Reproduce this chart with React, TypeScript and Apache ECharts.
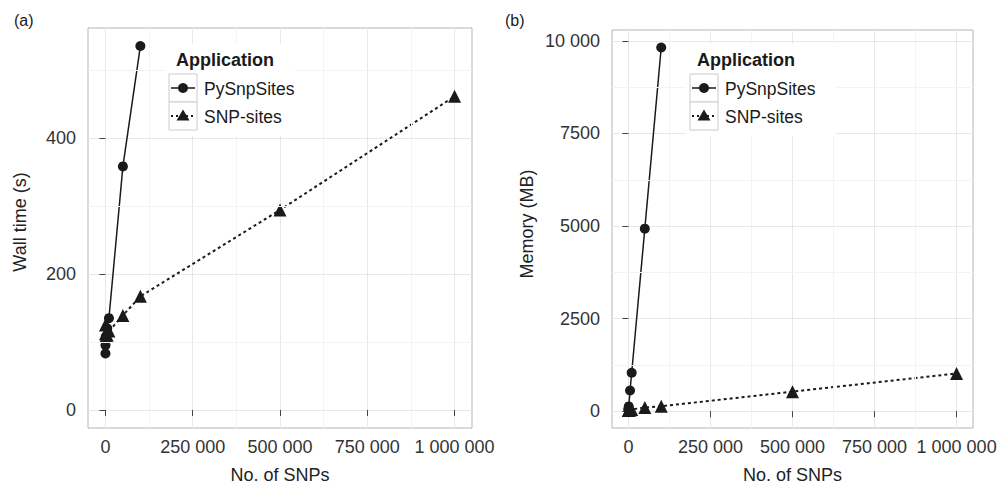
import React, { useEffect, useRef } from "react";
import * as echarts from "echarts";

const pySnps = [10, 100, 1000, 5000, 10000, 50000, 100000];
const snpSitesSnps = [10, 100, 1000, 5000, 10000, 50000, 100000, 500000, 1000000];
const pyWallTime = [83, 95, 108, 120, 135, 358, 535];
const snpWallTime = [125, 112, 108, 110, 116, 139, 167, 294, 461];
const pyMemory = [40, 60, 130, 560, 1040, 4930, 9820];
const snpMemory = [20, 22, 25, 35, 50, 100, 135, 530, 1020];

const xTicks = [0, 250000, 500000, 750000, 1000000];
const xMinorTicks = [125000, 375000, 625000, 875000];
const wallTicks = [0, 200, 400];
const wallMinorTicks = [100, 300, 500];
const memTicks = [0, 2500, 5000, 7500, 10000];
const memMinorTicks = [1250, 3750, 6250, 8750];

const FONT = "'Liberation Sans', Arial, sans-serif";
const INK = "#1a1a1a";

const fmt = (v: number) =>
  Math.abs(v) >= 10000 ? String(v).replace(/\B(?=(\d{3})+(?!\d))/g, " ") : String(v);

const zip = (xs: number[], ys: number[]) => xs.map((x, i) => [x, ys[i]]);

function xAxisOpt(gridIndex: number) {
  return {
    type: "value",
    gridIndex,
    min: -50000,
    max: 1050000,
    axisLine: { show: false },
    axisTick: { show: true, customValues: xTicks, length: 6, lineStyle: { color: "#444" } },
    axisLabel: {
      customValues: xTicks,
      formatter: fmt,
      fontSize: 18,
      color: "#333",
      fontFamily: FONT,
      margin: 10,
    },
    splitLine: { show: true, lineStyle: { color: "#e8e8e8", width: 1 } },
    name: "No. of SNPs",
    nameLocation: "middle",
    nameGap: 38,
    nameTextStyle: { fontSize: 18, color: "#222", fontFamily: FONT },
  };
}

function yAxisOpt(gridIndex: number, min: number, max: number, ticks: number[]) {
  return {
    type: "value",
    gridIndex,
    min,
    max,
    axisLine: { show: false },
    axisTick: { show: true, customValues: ticks, length: 6, lineStyle: { color: "#444" } },
    axisLabel: {
      customValues: ticks,
      formatter: fmt,
      fontSize: 18,
      color: "#333",
      fontFamily: FONT,
      margin: 12,
    },
    splitLine: { show: true, lineStyle: { color: "#e8e8e8", width: 1 } },
  };
}

function minorSeries(axisIndex: number, xs: number[], ys: number[]) {
  return {
    type: "line",
    xAxisIndex: axisIndex,
    yAxisIndex: axisIndex,
    data: [],
    z: 1,
    silent: true,
    markLine: {
      silent: true,
      symbol: ["none", "none"],
      label: { show: false },
      animation: false,
      lineStyle: { color: "#f3f3f3", type: "solid", width: 1 },
      data: [...xs.map((v) => ({ xAxis: v })), ...ys.map((v) => ({ yAxis: v }))],
    },
  };
}

function dataSeries(axisIndex: number, name: string, xs: number[], ys: number[], triangle: boolean) {
  return {
    type: "line",
    name,
    xAxisIndex: axisIndex,
    yAxisIndex: axisIndex,
    data: zip(xs, ys),
    symbol: triangle ? "triangle" : "circle",
    symbolSize: triangle ? 13 : 10,
    z: 3,
    itemStyle: { color: INK },
    lineStyle: triangle ? { color: INK, width: 2, type: [3, 3] } : { color: INK, width: 1.5 },
  };
}

function legend(x: number, bgW: number) {
  // x = left edge of the key boxes
  const k = 28;
  const rowTop = 74;
  const Z = 100;
  return [
    { type: "rect", z: Z, shape: { x: x - 4, y: 44, width: bgW, height: 92 }, style: { fill: "#fff" } },
    {
      type: "text",
      z: Z + 1,
      x: x + 7,
      y: 60,
      style: { text: "Application", fontSize: 18, fontWeight: "bold", fontFamily: FONT, fill: INK, verticalAlign: "middle" },
    },
    { type: "rect", z: Z + 1, shape: { x, y: rowTop, width: k, height: k }, style: { fill: "#fff", stroke: "#cccccc", lineWidth: 1 } },
    { type: "rect", z: Z + 1, shape: { x, y: rowTop + k, width: k, height: k }, style: { fill: "#fff", stroke: "#cccccc", lineWidth: 1 } },
    { type: "line", z: Z + 2, shape: { x1: x + 2, y1: rowTop + 14, x2: x + k - 2, y2: rowTop + 14 }, style: { stroke: INK, lineWidth: 1.5 } },
    { type: "circle", z: Z + 3, shape: { cx: x + 14, cy: rowTop + 14, r: 5 }, style: { fill: INK } },
    { type: "line", z: Z + 2, shape: { x1: x + 2, y1: rowTop + k + 14, x2: x + k - 2, y2: rowTop + k + 14 }, style: { stroke: INK, lineWidth: 2, lineDash: [2, 3] } },
    {
      type: "polygon",
      z: Z + 3,
      shape: { points: [[x + 14, rowTop + k + 7.5], [x + 20.5, rowTop + k + 18.5], [x + 7.5, rowTop + k + 18.5]] },
      style: { fill: INK },
    },
    {
      type: "text",
      z: Z + 1,
      x: x + k + 7,
      y: rowTop + 15,
      style: { text: "PySnpSites", fontSize: 17.5, fontFamily: FONT, fill: INK, verticalAlign: "middle" },
    },
    {
      type: "text",
      z: Z + 1,
      x: x + k + 7,
      y: rowTop + k + 15,
      style: { text: "SNP-sites", fontSize: 17.5, fontFamily: FONT, fill: INK, verticalAlign: "middle" },
    },
  ];
}

function yTitle(text: string, x: number, y: number) {
  return {
    type: "text",
    z: 100,
    x,
    y,
    rotation: Math.PI / 2,
    style: { text, fontSize: 18, fontFamily: FONT, fill: "#222", align: "center", verticalAlign: "middle" },
  };
}

export default function App() {
  const ref = useRef<HTMLDivElement>(null);
  useEffect(() => {
    if (!ref.current) return;
    const chart = echarts.init(ref.current, undefined, { renderer: "svg" });
    chart.setOption({
      animation: false,
      backgroundColor: "#fff",
      textStyle: { fontFamily: FONT },
      grid: [
        { left: 88, top: 28, width: 384, height: 405, show: true, backgroundColor: "#fff", borderColor: "#b5b5b5", borderWidth: 1, containLabel: false },
        { left: 612, top: 30, width: 361, height: 404, show: true, backgroundColor: "#fff", borderColor: "#b5b5b5", borderWidth: 1, containLabel: false },
      ],
      xAxis: [xAxisOpt(0), xAxisOpt(1)],
      yAxis: [yAxisOpt(0, -26.5, 561.5, wallTicks), yAxisOpt(1, -452, 10293, memTicks)],
      series: [
        minorSeries(0, xMinorTicks, wallMinorTicks),
        minorSeries(1, xMinorTicks, memMinorTicks),
        dataSeries(0, "PySnpSites", pySnps, pyWallTime, false),
        dataSeries(0, "SNP-sites", snpSitesSnps, snpWallTime, true),
        dataSeries(1, "PySnpSites", pySnps, pyMemory, false),
        dataSeries(1, "SNP-sites", snpSitesSnps, snpMemory, true),
      ],
      graphic: [
        ...legend(169, 130),
        ...legend(690, 150),
        yTitle("Wall time (s)", 20, 222),
        yTitle("Memory (MB)", 527, 224),
        { type: "text", z: 100, x: 14, y: 20, style: { text: "(a)", fontSize: 16, fontFamily: FONT, fill: INK, verticalAlign: "middle" } },
        { type: "text", z: 100, x: 505, y: 20, style: { text: "(b)", fontSize: 16, fontFamily: FONT, fill: INK, verticalAlign: "middle" } },
      ],
    });
    return () => chart.dispose();
  }, []);
  return <div ref={ref} style={{ position: "absolute", left: 0, top: 0, width: 1003, height: 489 }} />;
}
